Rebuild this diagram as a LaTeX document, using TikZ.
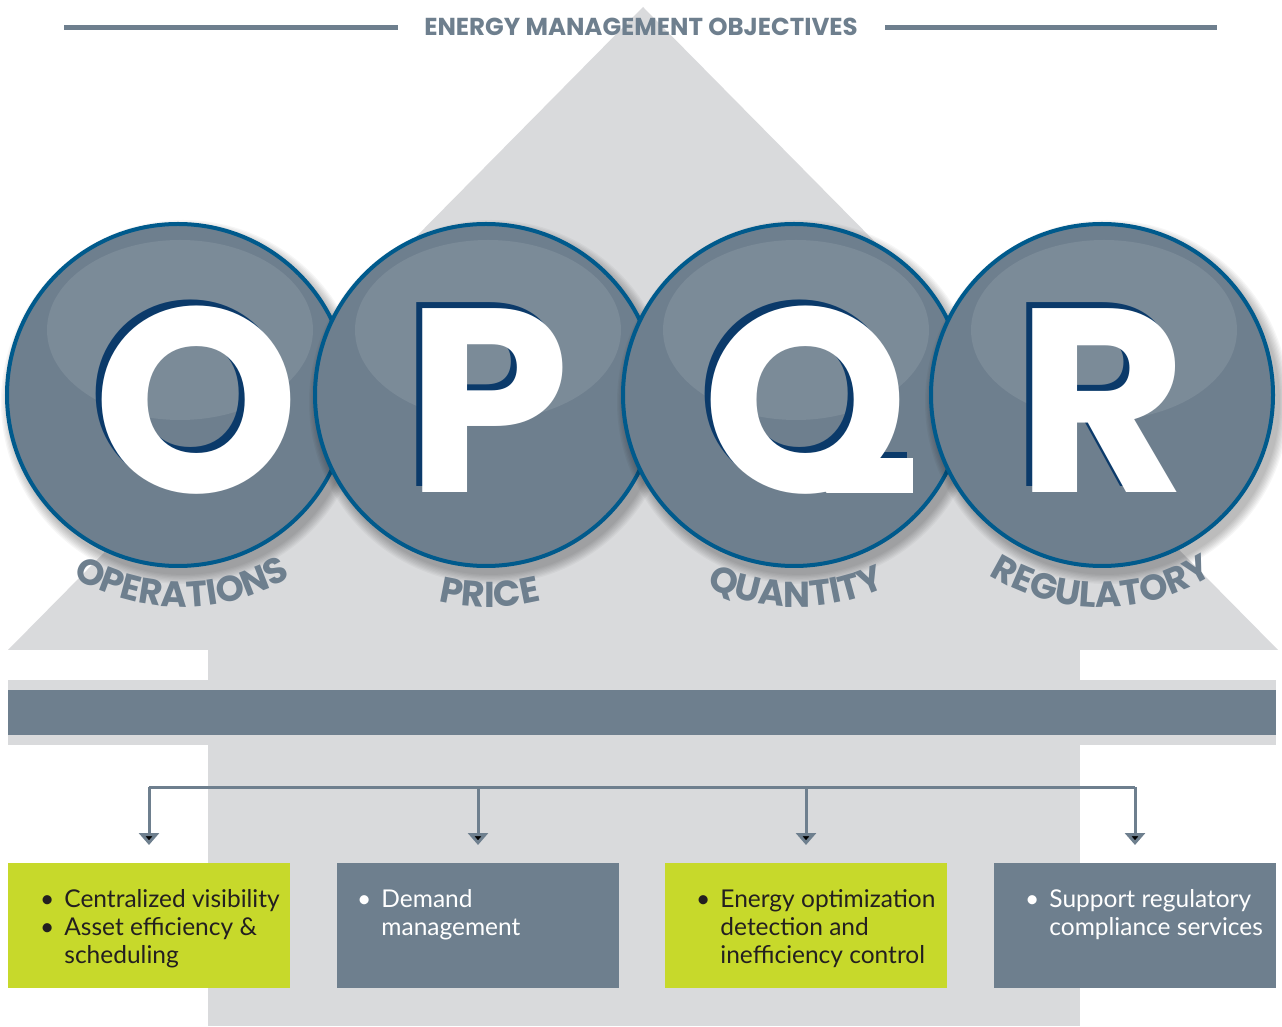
\documentclass[tikz,border=0pt]{standalone}
\usepackage{fontspec}
\setmainfont{Lato}
\newfontfamily\pop{Poppins}
\usetikzlibrary{arrows.meta,decorations.text}
\definecolor{slate}{HTML}{6E7F8E}
\definecolor{lgray}{HTML}{D9DADC}
\definecolor{lime}{HTML}{C7D92B}
\definecolor{rim}{HTML}{005A8C}
\definecolor{hilite}{HTML}{7B8B98}
\definecolor{lshadow}{HTML}{0B3A6A}
\definecolor{ink}{HTML}{231F20}
\newcommand\bodyf{\fontsize{24.5}{28}\selectfont}
\newcommand\bigf{\fontsize{262}{262}\selectfont\pop\bfseries}
\newcommand\labf{\fontsize{36}{36}\selectfont\pop\bfseries}
\begin{document}
\begin{tikzpicture}[x=1pt,y=1pt,
  box/.style={minimum width=282pt, minimum height=125pt, anchor=north west, inner sep=0pt, outer sep=0pt},
  gbox/.style={box, fill=lime},
  sbox/.style={box, fill=slate},
  ball/.style={circle, minimum size=342pt, fill=slate, draw=rim, line width=4pt, inner sep=0pt},
  letter/.style={font=\bigf, anchor=base, inner sep=0pt},
  conn/.style={draw=slate, line width=3pt},
  arrowtip/.style={-{Triangle[width=20pt,length=12pt]}},
  btext/.style={anchor=base west, inner sep=0pt, font=\bodyf},
  lab/.style={decorate, decoration={text along path, text align=center, text color=slate}}
]
\useasboundingbox (0,0) rectangle (1282,1026);
\fill[white] (0,0) rectangle (1282,1026);
% big arrow
\fill[lgray] (8,376) -- (643,1019) -- (1278,376) -- cycle;
\fill[lgray] (208,0) rectangle (1080,376);
\fill[lgray] (8,281) rectangle (1276,346);
\fill[slate] (8,291) rectangle (1276,336);
% title
\node[font=\fontsize{24.5}{25}\selectfont\pop\bfseries, text=slate, inner sep=0pt] (title) at (641,999) {ENERGY MANAGEMENT OBJECTIVES};
\coordinate (tl1) at (64,998); \coordinate (tl2) at (398,998);
\coordinate (tr1) at (885,998); \coordinate (tr2) at (1217,998);
\draw[slate, line width=5pt] (tl1) -- (tl2);
\draw[slate, line width=5pt] (tr1) -- (tr2);
% circles
\foreach \cx/\n in {178/1, 486/2, 794/3, 1102/4}{
  \foreach \k in {0,...,7}{
    \fill[black, opacity=0.035] (\cx+5,631-7) circle ({173+9-\k*1.3});
  }
  \node[ball] (c\n) at (\cx,631) {};
  \begin{scope}
    \clip (\cx,631) circle (170);
    \fill[hilite] (\cx+2,696) ellipse [x radius=133, y radius=90];
  \end{scope}
}
% big letters
\foreach \lx/\L/\n in {196/O/1, 488/P/2, 1102/R/4}{
  \begin{scope}
    \clip (\lx-160,529) rectangle (\lx+160,820);
    \node[letter, text=lshadow] (s\n) at (\lx-6,539) {\L};
    \node[letter, text=white] (l\n) at (\lx,533) {\L};
  \end{scope}
}
% Q with a horizontal tail
\begin{scope}
  \clip (690,535) rectangle (819,740) (819,539) rectangle (920,740);
  \clip (799,630) ellipse [x radius=99.5, y radius=98.5];
  \node[letter, text=lshadow] (s3) at (800,539) {Q};
\end{scope}
\fill[lshadow] (839,539) rectangle (907,574);
\begin{scope}
  \clip (690,529) rectangle (825,740) (825,533) rectangle (920,740);
  \clip (805,624) ellipse [x radius=99.5, y radius=98.5];
  \node[letter, text=white] (l3) at (806,533) {Q};
\end{scope}
\fill[white] (845,533) rectangle (913,568);
% curved labels
\path[lab, decoration={text={|\labf|OPERATIONS}}] (182,631) ++(195:212) arc[start angle=195, end angle=345, radius=212];
\path[lab, decoration={text={|\labf|PRICE}}] (490,631) ++(195:212) arc[start angle=195, end angle=345, radius=212];
\path[lab, decoration={text={|\labf|QUANTITY}}] (796,631) ++(195:212) arc[start angle=195, end angle=345, radius=212];
\path[lab, decoration={text={|\labf|REGULATORY}}] (1101,631) ++(195:212) arc[start angle=195, end angle=345, radius=212];
% boxes
\node[gbox] (b1) at (8,163) {};
\node[sbox] (b2) at (337,163) {};
\node[gbox] (b3) at (665,163) {};
\node[sbox] (b4) at (994,163) {};
% connectors
\coordinate (j1) at (149,239); \coordinate (j2) at (478,239);
\coordinate (j3) at (806,239); \coordinate (j4) at (1135,239);
\coordinate (a1) at (149,181); \coordinate (a2) at (478,181);
\coordinate (a3) at (806,181); \coordinate (a4) at (1135,181);
\draw[conn] (j1) -- (j4);
\draw[conn, arrowtip] (j1) -- (a1);
\draw[conn, arrowtip] (j2) -- (a2);
\draw[conn, arrowtip] (j3) -- (a3);
\draw[conn, arrowtip] (j4) -- (a4);
% box texts
\node[btext, text=ink] (t1) at (40,119) {\begin{tabular}[t]{@{}l@{\hspace{10pt}}l@{}}•&Centralized visibility\\•&Asset efficiency \&\\&scheduling\end{tabular}};
\node[btext, text=white] (t2) at (357,119) {\begin{tabular}[t]{@{}l@{\hspace{10pt}}l@{}}•&Demand\\&management\end{tabular}};
\node[btext, text=ink] (t3) at (696,119) {\begin{tabular}[t]{@{}l@{\hspace{10pt}}l@{}}•&Energy optimization\\&detection and\\&inefficiency control\end{tabular}};
\node[btext, text=white] (t4) at (1025,119) {\begin{tabular}[t]{@{}l@{\hspace{10pt}}l@{}}•&Support regulatory\\&compliance services\end{tabular}};
\end{tikzpicture}
\end{document}
